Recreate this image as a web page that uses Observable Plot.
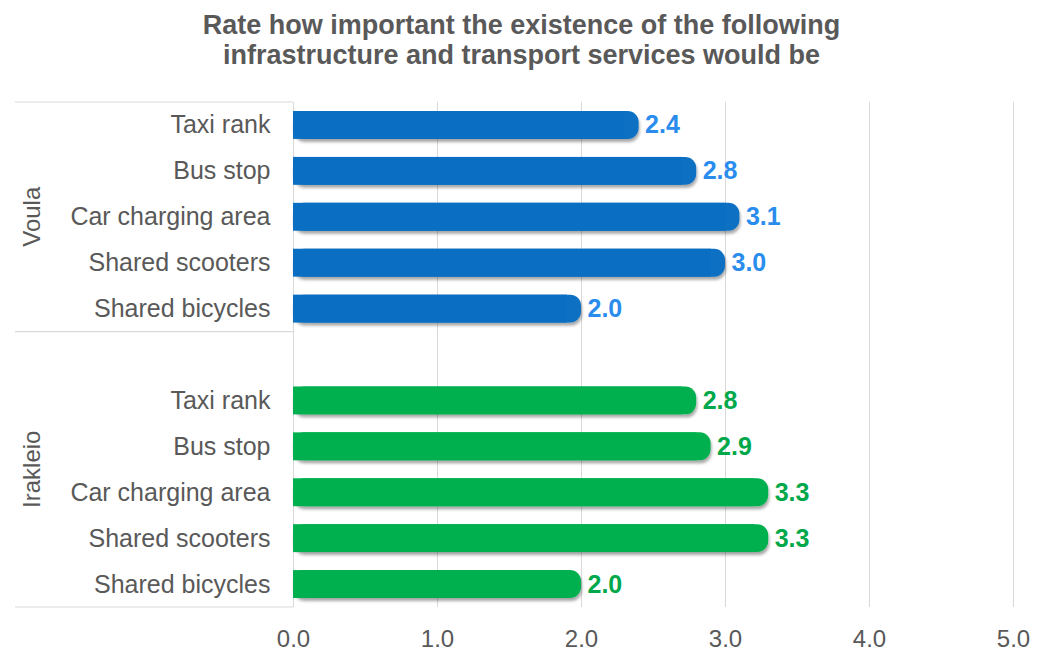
<!DOCTYPE html>
<html>
<head>
<meta charset="utf-8">
<script src="https://cdn.jsdelivr.net/npm/d3@7"></script>
<script src="https://cdn.jsdelivr.net/npm/@observablehq/plot@0.6"></script>
<style>
  html, body { margin: 0; padding: 0; background: #fff; }
  #chart { width: 1043px; height: 651px; overflow: hidden; }
  .title {
    box-sizing: border-box;
    height: 90px;
    padding-top: 10px;
    text-align: center;
    font-family: "Liberation Sans", Arial, sans-serif;
    font-weight: bold;
    font-size: 27px;
    line-height: 30px;
    color: #595959;
  }
  svg { display: block; }
</style>
</head>
<body>
<div id="chart">
  <div class="title">Rate how important the existence of the following<br>infrastructure and transport services would be</div>
</div>
<script>
// Survey categories and mean importance ratings per location
const categories = ["Taxi rank", "Bus stop", "Car charging area", "Shared scooters", "Shared bicycles"];
const groups = ["Voula", "Irakleio"];
const voulaValues = [2.4, 2.8, 3.1, 3.0, 2.0];
const irakleioValues = [2.8, 2.9, 3.3, 3.3, 2.0];
const xTicks = [0, 1, 2, 3, 4, 5];
const gridTicks = [1, 2, 3, 4, 5];

const barColors = { Voula: "#0A6FC2", Irakleio: "#00B04F" };
const labelColors = { Voula: "#2A8DEE", Irakleio: "#00A84A" };
const lineColor = "#d9d9d9";

// One band per row; every group after the first starts with an empty spacer row
const seriesByGroup = [voulaValues, irakleioValues];
const rows = [];
groups.forEach((g, gi) => {
  if (gi > 0) rows.push({ key: g + "|", group: g, category: "", value: null });
  categories.forEach((c, i) => rows.push({ key: g + "|" + c, group: g, category: c, value: seriesByGroup[gi][i] }));
});
const bars = rows.filter(d => d.value != null);
const rowLabel = new Map(rows.map(d => [d.key, d.category]));

const barInset = 9;
const groupMarks = groups.flatMap(g => {
  const data = bars.filter(d => d.group === g);
  return [
    // rounded bar (right end), square overlay keeps the left end flush with the axis
    Plot.barX(data, { x: "value", y: "key", fill: barColors[g], rx: 11, insetTop: barInset, insetBottom: barInset }),
    Plot.barX(data, { x: "value", y: "key", fill: barColors[g], insetTop: barInset, insetBottom: barInset, insetRight: 14 }),
    Plot.text(data, {
      x: "value", y: "key", text: d => d.value.toFixed(1),
      fill: labelColors[g], dx: 6, textAnchor: "start",
      fontWeight: "bold", fontSize: 25
    })
  ];
});

const svg = Plot.plot({
  width: 1043,
  height: 561,
  marginTop: 12,
  marginBottom: 44,
  marginLeft: 293,
  marginRight: 30,
  style: {
    fontFamily: "'Liberation Sans', Arial, sans-serif",
    fontSize: "24px",
    color: "#595959",
    background: "white",
    overflow: "visible"
  },
  x: { domain: [0, 5] },
  y: { domain: rows.map(d => d.key), padding: 0, round: false },
  marks: [
    Plot.gridX(gridTicks, { stroke: lineColor, strokeOpacity: 1 }),
    Plot.ruleX([0], { stroke: lineColor, strokeOpacity: 1 }),
    ...groupMarks,
    Plot.axisX(xTicks, { tickSize: 0, tickPadding: 22, tickFormat: d => d.toFixed(1), label: null }),
    Plot.axisY({ tickSize: 0, tickPadding: 23, tickFormat: k => rowLabel.get(k), fontSize: 25, label: null })
  ]
});

// Soft drop shadow under the rounded bars
const root = d3.select(svg);
const defs = root.insert("defs", ":first-child");
const f = defs.append("filter").attr("id", "bar-shadow")
  .attr("x", "-5%").attr("y", "-30%").attr("width", "115%").attr("height", "180%");
f.append("feDropShadow").attr("dx", 1).attr("dy", 3).attr("stdDeviation", 1.6)
  .attr("flood-color", "#000").attr("flood-opacity", 0.35);
root.selectAll('g[aria-label="bar"]').filter((d, i) => i % 2 === 0).attr("filter", "url(#bar-shadow)");

// Group table on the left: separators and rotated group names
const ys = svg.scale("y");
const left = 15, right = 293;
const table = root.append("g").attr("class", "group-table");
const firstKey = g => rows.find(d => d.group === g).key;
const lastKey = g => rows.filter(d => d.group === g).slice(-1)[0].key;
const bounds = groups.map(g => [ys.apply(firstKey(g)), ys.apply(lastKey(g)) + ys.bandwidth]);
const edges = [bounds[0][0], ...bounds.map(b => b[1])];
table.selectAll("line").data(edges).join("line")
  .attr("x1", left).attr("x2", right)
  .attr("y1", d => d).attr("y2", d => d)
  .attr("stroke", lineColor).attr("stroke-width", 1.2);
table.selectAll("text").data(groups).join("text")
  .attr("transform", (g, i) => `translate(40,${(bounds[i][0] + bounds[i][1]) / 2}) rotate(-90)`)
  .attr("text-anchor", "middle")
  .attr("fill", "currentColor")
  .attr("font-size", 24)
  .text(g => g);

document.getElementById("chart").appendChild(svg);
</script>
</body>
</html>
